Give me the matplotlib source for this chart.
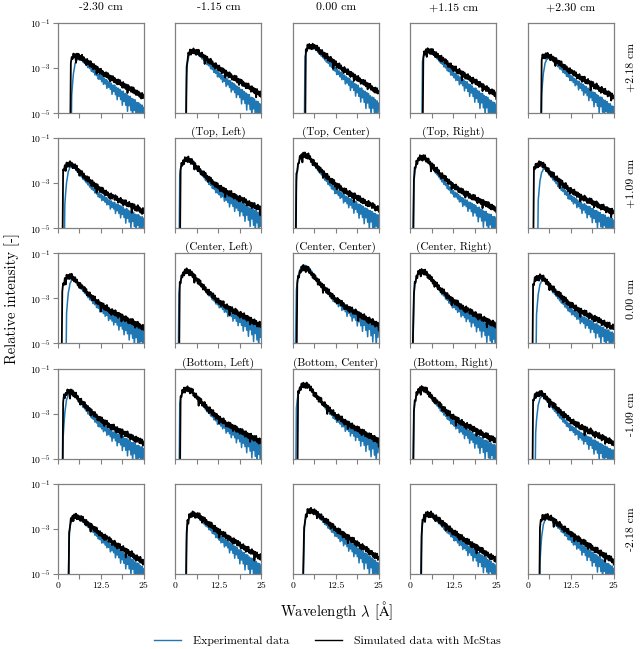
import numpy as np
import matplotlib
matplotlib.use("Agg")
import matplotlib.pyplot as plt
from matplotlib.lines import Line2D

plt.rcParams.update({
    "font.family": "serif",
    "font.serif": ["cmr10", "DejaVu Serif"],
    "mathtext.fontset": "cm",
    "axes.formatter.use_mathtext": True,
    "axes.unicode_minus": False,
})

# column / row positions of the detector grid
col_titles = ["-2.30 cm", "-1.15 cm", "0.00 cm", "+1.15 cm", "+2.30 cm"]
row_titles = ["+2.18 cm", "+1.09 cm", "0.00 cm", "-1.09 cm", "-2.18 cm"]
panel_names = {
    (1, 1): "(Top, Left)", (1, 2): "(Top, Center)", (1, 3): "(Top, Right)",
    (2, 1): "(Center, Left)", (2, 2): "(Center, Center)", (2, 3): "(Center, Right)",
    (3, 1): "(Bottom, Left)", (3, 2): "(Bottom, Center)", (3, 3): "(Bottom, Right)",
}

# wavelength grid (0.25 A steps)
lam = np.arange(101) * 0.25

# spectrum shape, normalised: 0 at peak, -1 at 25 A
shape_inner = [
    -2.0, -2.0, -2.0, -1.2, -0.40, -0.25, -0.17, -0.11, -0.07, -0.04,
    -0.02, -0.01, 0.00, 0.00, 0.00, 0.00, -0.01, -0.02, -0.03, -0.04,
    -0.06, -0.08, -0.10, -0.12, -0.14, -0.16, -0.18, -0.19, -0.21, -0.23,
    -0.24, -0.26, -0.28, -0.29, -0.31, -0.33, -0.34, -0.36, -0.37, -0.39,
    -0.40, -0.42, -0.43, -0.45, -0.46, -0.48, -0.49, -0.51, -0.52, -0.54,
    -0.55, -0.56, -0.57, -0.58, -0.59, -0.60, -0.61, -0.62, -0.64, -0.65,
    -0.66, -0.67, -0.68, -0.69, -0.70, -0.70, -0.71, -0.72, -0.73, -0.74,
    -0.75, -0.76, -0.76, -0.77, -0.78, -0.79, -0.80, -0.81, -0.82, -0.83,
    -0.83, -0.84, -0.85, -0.86, -0.87, -0.88, -0.89, -0.89, -0.90, -0.91,
    -0.92, -0.93, -0.94, -0.94, -0.95, -0.96, -0.97, -0.98, -0.98, -0.99,
    -1.00,
]
shape_outer = [
    -2.0, -2.0, -2.0, -2.0, -2.0, -2.0, -2.0, -2.0, -2.0, -2.0,
    -2.0, -2.0, -1.2, -0.40, -0.18, -0.10, -0.05, -0.02, -0.01, 0.00,
    0.00, 0.00, 0.00, -0.01, -0.01, -0.02, -0.03, -0.04, -0.05, -0.07,
    -0.08, -0.10, -0.11, -0.13, -0.14, -0.16, -0.17, -0.19, -0.20, -0.22,
    -0.23, -0.25, -0.26, -0.28, -0.29, -0.31, -0.32, -0.34, -0.35, -0.37,
    -0.38, -0.40, -0.41, -0.42, -0.44, -0.45, -0.46, -0.47, -0.49, -0.50,
    -0.51, -0.52, -0.54, -0.55, -0.56, -0.57, -0.58, -0.60, -0.61, -0.62,
    -0.63, -0.64, -0.66, -0.67, -0.68, -0.69, -0.70, -0.72, -0.73, -0.74,
    -0.75, -0.76, -0.78, -0.79, -0.80, -0.81, -0.82, -0.84, -0.85, -0.86,
    -0.87, -0.88, -0.90, -0.91, -0.92, -0.93, -0.94, -0.96, -0.97, -0.98,
    -1.00,
]

# counting noise (decades)
noise_sim = [
    0.08, -0.10, 0.13, -0.07, 0.11, -0.14, 0.06, -0.09, 0.12, -0.11,
    0.07, -0.15, 0.10, -0.08, 0.14, -0.12, 0.05, -0.10, 0.13, -0.06,
    0.09, -0.30, 0.11, -0.09, 0.12, -0.13, 0.07, -0.11, 0.15, -0.08,
    0.10, -0.12, 0.06, -0.16, 0.13, -0.07, 0.09, -0.11, 0.14, -0.09,
    0.08, -0.13, 0.12, -0.06, 0.10, -0.22, 0.11, -0.10, 0.07, -0.12,
    0.13, -0.08, 0.09, -0.14, 0.06, -0.10, 0.12, -0.09, 0.14, -0.11,
    0.08, -0.18, 0.10, -0.07, 0.13, -0.12, 0.09, -0.10, 0.06, -0.13,
    0.11, -0.09, 0.14, -0.08, 0.07, -0.15, 0.12, -0.10, 0.09, -0.12,
    0.10, -0.26, 0.13, -0.07, 0.08, -0.11, 0.12, -0.09, 0.15, -0.10,
    0.07, -0.13, 0.11, -0.08, 0.10, -0.12, 0.06, -0.14, 0.13, -0.09,
    0.10,
]
noise_exp = [
    0.02, -0.03, 0.02, -0.02, 0.03, -0.02, 0.02, -0.03, 0.02, -0.02,
    0.03, -0.03, 0.02, -0.04, 0.03, -0.03, 0.02, -0.04, 0.03, -0.03,
    0.04, -0.04, 0.03, -0.05, 0.04, -0.06, 0.03, -0.05, 0.04, -0.07,
    0.05, -0.06, 0.04, -0.08, 0.05, -0.10, 0.06, -0.07, 0.05, -0.12,
    0.06, -0.09, 0.07, -0.14, 0.06, -0.10, 0.08, -0.18, 0.07, -0.12,
    0.09, -0.15, 0.08, -0.22, 0.10, -0.13, 0.09, -0.28, 0.11, -0.16,
    0.10, -0.20, 0.12, -0.35, 0.09, -0.18, 0.13, -0.25, 0.11, -0.42,
    0.12, -0.22, 0.14, -0.30, 0.10, -0.50, 0.15, -0.26, 0.12, -0.38,
    0.14, -0.60, 0.13, -0.28, 0.16, -0.45, 0.12, -0.70, 0.15, -0.32,
    0.17, -0.55, 0.13, -0.80, 0.16, -0.36, 0.14, -0.90, 0.18, -0.45,
    0.15,
]
# slow rise of the measured edge in the corner detectors
exp_ramp = [-1.6, -1.1, -0.75, -0.5, -0.32, -0.2, -0.12, -0.06, -0.02]

# per-detector values (log10), rows top->bottom, cols left->right
sim_peak = [
    [-2.47, -2.25, -2.03, -2.25, -2.45],
    [-2.15, -1.95, -1.75, -1.85, -2.15],
    [-2.03, -1.80, -1.65, -1.80, -2.05],
    [-2.03, -1.90, -1.72, -1.90, -2.10],
    [-2.45, -2.35, -2.20, -2.35, -2.45],
]
sim_tail = [
    [-4.29, -4.20, -4.10, -4.20, -4.30],
    [-4.25, -4.15, -4.15, -4.15, -4.30],
    [-4.30, -4.20, -4.20, -4.20, -4.30],
    [-4.30, -4.25, -4.20, -4.20, -4.30],
    [-4.50, -4.30, -4.30, -4.40, -4.45],
]
exp_peak = [
    [-2.50, -2.28, -2.06, -2.28, -2.48],
    [-2.18, -1.93, -1.73, -1.83, -2.18],
    [-2.03, -1.75, -1.55, -1.75, -2.08],
    [-2.03, -1.88, -1.68, -1.88, -2.13],
    [-2.48, -2.38, -2.23, -2.38, -2.48],
]
exp_tail = [
    [-4.90, -4.80, -4.70, -4.80, -4.90],
    [-4.70, -4.50, -4.60, -4.70, -4.80],
    [-4.60, -4.40, -4.30, -4.50, -4.70],
    [-4.70, -4.50, -4.40, -4.60, -4.80],
    [-4.90, -4.80, -4.70, -4.80, -4.90],
]
sim_onset = [
    [3.6, 3.2, 3.6, 3.6, 3.8],
    [1.3, 1.5, 0.9, 1.0, 1.75],
    [1.2, 1.2, 1.2, 0.5, 1.5],
    [1.3, 1.5, 1.4, 1.0, 1.5],
    [3.2, 3.1, 2.8, 3.1, 3.3],
]
exp_onset = [
    [4.0, 3.0, 3.3, 3.4, 3.8],
    [2.0, 1.25, 0.75, 0.75, 3.0],
    [2.3, 1.0, 0.5, 0.5, 2.5],
    [1.5, 1.25, 1.0, 0.75, 2.2],
    [3.0, 2.9, 2.6, 2.9, 3.3],
]
exp_slow = [
    [1, 0, 0, 0, 1],
    [1, 0, 0, 0, 1],
    [1, 0, 0, 0, 1],
    [1, 0, 0, 0, 1],
    [0, 0, 0, 0, 1],
]

fig, axes = plt.subplots(5, 5, figsize=(6.4, 6.49), dpi=100)
fig.subplots_adjust(left=0.0906, right=0.959, top=0.9646, bottom=0.1156,
                    wspace=0.369, hspace=0.28)

for r in range(5):
    for c in range(5):
        ax = axes[r, c]
        k = 5 * r + c
        shape = np.array(shape_outer if r in (0, 4) else shape_inner)

        sim_log = (sim_peak[r][c] + (sim_peak[r][c] - sim_tail[r][c]) * shape
                   + np.roll(noise_sim, 13 * k))
        sim_log[lam < sim_onset[r][c]] = -7

        exp_log = (exp_peak[r][c] + (exp_peak[r][c] - exp_tail[r][c]) * shape
                   + np.roll(noise_exp, 2 * (k % 3)))
        i0 = int(np.argmax(lam >= exp_onset[r][c]))
        if exp_slow[r][c]:
            exp_log[i0:i0 + len(exp_ramp)] += exp_ramp
        exp_log[:i0] = -7

        ax.plot(lam, 10 ** exp_log, color="#1f77b4", lw=1.1)
        ax.plot(lam, 10 ** sim_log, color="k", lw=1.3)

        ax.set_yscale("log")
        ax.set_xlim(0, 25)
        ax.set_ylim(1e-5, 1e-1)
        ax.set_xticks([0, 6.25, 12.5, 18.75, 25])
        if r == 4:
            ax.set_xticklabels(["0", "", "12.5", "", "25"])
        else:
            ax.set_xticklabels([])
        ax.yaxis.set_minor_locator(matplotlib.ticker.NullLocator())
        if c == 0:
            ax.set_yticks([1e-5, 1e-3, 1e-1])
        else:
            ax.set_yticks([])
        ax.tick_params(direction="out", length=3.5, width=0.8, color="gray",
                       labelsize=7, pad=2)
        for sp in ax.spines.values():
            sp.set_color("gray")
            sp.set_linewidth(0.9)

        if r == 0:
            ax.set_title(col_titles[c], fontsize=8.5, pad=9)
        if (r, c) in panel_names:
            ax.set_title(panel_names[(r, c)], fontsize=8, pad=2)
        if c == 4:
            ax.text(1.2, 0.5, row_titles[r], transform=ax.transAxes,
                    rotation=90, va="center", ha="center", fontsize=8.5)

fig.text(0.019, 0.54, "Relative intensity [-]", rotation=90,
         va="center", ha="center", fontsize=10.5)
fig.text(0.526, 1 - 611 / 649, r"Wavelength $\lambda$ [$\mathrm{\AA}$]",
         va="center", ha="center", fontsize=10.5)

handles = [Line2D([], [], color="#1f77b4", lw=1.0),
           Line2D([], [], color="k", lw=1.0)]
fig.legend(handles, ["Experimental data", "Simulated data with McStas"],
           loc="center", bbox_to_anchor=(0.511, 1 - 641 / 649), ncol=2,
           frameon=False, fontsize=8.5, handlelength=2.3, handletextpad=1.0,
           columnspacing=2.2)

fig.savefig("out.png", dpi=100)
